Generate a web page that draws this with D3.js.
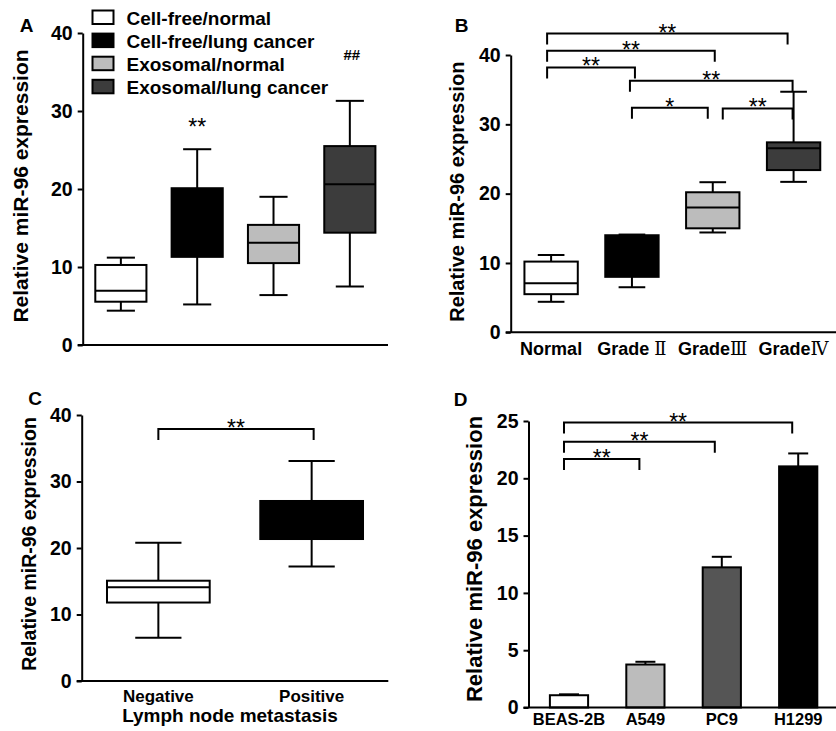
<!DOCTYPE html>
<html><head><meta charset="utf-8">
<script src="https://cdn.jsdelivr.net/npm/d3@7"></script>
<style>
body{margin:0;background:#fff}
svg{display:block}
text{font-family:"Liberation Sans",Arial,Helvetica,sans-serif;fill:#000}
</style>
</head><body>
<svg id="chart" width="836" height="731"></svg>
<script>
// ---------- DATA ----------
const yTicks40 = [0, 10, 20, 30, 40];
const yTicksD = [0, 5, 10, 15, 20, 25];

// Panel A
const groupsA = ["Cell-free/normal", "Cell-free/lung cancer", "Exosomal/normal", "Exosomal/lung cancer"];
const minA = [4.4, 5.2, 6.4, 7.5];
const q1A  = [5.55, 11.3, 10.5, 14.4];
const medA = [6.96, 15.5, 13.1, 20.6];
const q3A  = [10.26, 20.1, 15.4, 25.5];
const maxA = [11.2, 25.1, 19.0, 31.3];
const marksA = ["", "**", "", "##"];

// Panel B
const groupsB = ["Normal", "Grade Ⅱ", "GradeⅢ", "GradeⅣ"];
const minB = [4.4, 6.5, 14.4, 21.7];
const q1B  = [5.5, 8.0, 15.0, 23.4];
const medB = [7.07, 10.5, 18.0, 26.55];
const q3B  = [10.2, 14.0, 20.2, 27.4];
const maxB = [11.15, 14.1, 21.65, 34.7];
const bracketsB = [[0, 3, 43.1, "**"], [0, 2, 40.6, "**"], [0, 1, 38.2, "**"], [1, 3, 36.3, "**"], [1, 2, 32.4, "*"], [2, 3, 32.3, "**"]];

// Panel C
const groupsC = ["Negative", "Positive"];
const minC = [6.5, 17.2];
const q1C  = [11.8, 21.35];
const medC = [14.1, 24.0];
const q3C  = [15.08, 27.07];
const maxC = [20.8, 33.1];
const bracketsC = [[0, 1, 37.9, "**"]];
const xTitleC = "Lymph node metastasis";

// Panel D
const cellsD = ["BEAS-2B", "A549", "PC9", "H1299"];
const meanD = [1.07, 3.75, 12.23, 21.04];
const sdD   = [0.08, 0.24, 0.92, 1.13];
const bracketsD = [[0, 3, 24.86, "**"], [0, 2, 23.18, "**"], [0, 1, 21.68, "**"]];

const yTitle = "Relative miR-96 expression";

// ---------- STYLE ----------
const fillsA = ["#ffffff", "#000000", "#bcbcbc", "#3c3c3c"];
const fillsC = ["#ffffff", "#000000"];
const fillsD = ["#ffffff", "#bcbcbc", "#555555", "#000000"];
const nudgeB = [[-4, -6], [-4, 2], [-4, 3], [-2, -1], [0, -5], [10, -1]];
const SW = 2;

const svg = d3.select("#chart");

function yAxis(g, y, ticks, x0, fs) {
  const ax = g.append("g").attr("transform", `translate(${x0},0)`)
    .call(d3.axisLeft(y).tickValues(ticks).tickSize(5).tickSizeOuter(0).tickPadding(5));
  ax.select(".domain").attr("stroke", "#000").attr("stroke-width", SW);
  ax.selectAll(".tick line").attr("stroke", "#000").attr("stroke-width", SW);
  ax.selectAll(".tick text").attr("font-size", fs).attr("font-weight", "bold")
    .attr("font-family", "Liberation Sans, Arial, sans-serif").attr("fill", "#000");
  return ax;
}
function xAxis(g, x, y0, x1, showLabels, fs, pad) {
  const ax = g.append("g").attr("transform", `translate(0,${y0})`)
    .call(d3.axisBottom(x).tickSize(0).tickSizeOuter(0).tickPadding(pad));
  ax.select(".domain").remove();
  ax.selectAll(".tick line").remove();
  g.append("line").attr("x1", x.range()[0] - 5).attr("x2", x1).attr("y1", y0).attr("y2", y0)
    .attr("stroke", "#000").attr("stroke-width", SW);
  if (!showLabels) ax.selectAll(".tick text").remove();
  else ax.selectAll(".tick text").attr("font-size", fs).attr("font-weight", "bold")
    .attr("font-family", "Liberation Sans, Arial, sans-serif").attr("fill", "#000");
  return ax;
}
function yLabel(g, bx, cy, fs) {
  g.append("text").attr("transform", `translate(${bx},${cy}) rotate(-90)`)
    .attr("text-anchor", "middle").attr("font-size", fs).attr("font-weight", "bold").text(yTitle);
}
function panelLetter(g, cx, by, t) {
  g.append("text").attr("x", cx).attr("y", by).attr("text-anchor", "middle")
    .attr("font-size", 19).attr("font-weight", "bold").text(t);
}
function boxes(g, cats, mins, q1s, meds, q3s, maxs, fills, x, y, capFrac) {
  const bw = x.bandwidth(), cw = bw * capFrac;
  cats.forEach((c, i) => {
    const cx = x(c) + bw / 2;
    const gg = g.append("g");
    gg.append("line").attr("x1", cx).attr("x2", cx).attr("y1", y(q3s[i])).attr("y2", y(maxs[i]));
    gg.append("line").attr("x1", cx).attr("x2", cx).attr("y1", y(q1s[i])).attr("y2", y(mins[i]));
    gg.append("line").attr("x1", cx - cw / 2).attr("x2", cx + cw / 2).attr("y1", y(maxs[i])).attr("y2", y(maxs[i]));
    gg.append("line").attr("x1", cx - cw / 2).attr("x2", cx + cw / 2).attr("y1", y(mins[i])).attr("y2", y(mins[i]));
    gg.append("rect").attr("x", x(c)).attr("width", bw).attr("y", y(q3s[i]))
      .attr("height", y(q1s[i]) - y(q3s[i])).attr("fill", fills[i]);
    gg.append("line").attr("x1", x(c)).attr("x2", x(c) + bw).attr("y1", y(meds[i])).attr("y2", y(meds[i]));
    gg.selectAll("line,rect").attr("stroke", "#000").attr("stroke-width", SW);
  });
}
function stars(g, cx, cy, t) {
  g.append("text").attr("x", cx).attr("y", cy + 13.5).attr("text-anchor", "middle")
    .attr("font-family", "DejaVu Sans, sans-serif").attr("font-size", 23).text(t);
}
function brackets(g, list, x, y, nudges) {
  const bw = x.bandwidth();
  const cats = x.domain();
  list.forEach((b, k) => {
    const n = nudges[k];
    const xa = x(cats[b[0]]) + bw / 2 + n[0];
    const xb = x(cats[b[1]]) + bw / 2 + n[1];
    const yy = y(b[2]);
    g.append("path").attr("d", `M${xa},${yy + 11}V${yy}H${xb}V${yy + 11}`)
      .attr("fill", "none").attr("stroke", "#000").attr("stroke-width", SW);
    stars(g, (xa + xb) / 2, yy - 6.5, b[3]);
  });
}

// ---------- PANEL A ----------
{
  const g = svg.append("g");
  const y = d3.scaleLinear().domain([0, 40]).range([345, 33]);
  const x = d3.scaleBand().domain(groupsA).range([82.7, 388]).paddingInner(0.33).paddingOuter(0.165);
  xAxis(g, x, 345, 388, false, 18, 8);
  yAxis(g, y, yTicks40, 82.7, 19.5);
  boxes(g, groupsA, minA, q1A, medA, q3A, maxA, fillsA, x, y, 0.55);
  groupsA.forEach((c, i) => {
    if (marksA[i] === "**") stars(g, x(c) + x.bandwidth() / 2, 121.5, marksA[i]);
    else if (marksA[i]) g.append("text").attr("x", x(c) + x.bandwidth() / 2 + 2).attr("y", 60)
      .attr("text-anchor", "middle").attr("font-size", 15).attr("font-weight", "bold").text(marksA[i]);
  });
  const lg = g.append("g");
  groupsA.forEach((c, i) => {
    const yy = 10.5 + i * 23.1;
    lg.append("rect").attr("x", 92.5).attr("y", yy).attr("width", 21).attr("height", 13.5)
      .attr("fill", fillsA[i]).attr("stroke", "#000").attr("stroke-width", SW);
    lg.append("text").attr("x", 126.5).attr("y", yy + 14).attr("font-size", 19)
      .attr("font-weight", "bold").text(c);
  });
  yLabel(g, 28, 186, 21);
  panelLetter(g, 26.5, 32, "A");
}

// ---------- PANEL B ----------
{
  const g = svg.append("g");
  const y = d3.scaleLinear().domain([0, 40]).range([332.3, 55]);
  const x = d3.scaleBand().domain(groupsB).range([510.7, 834]).paddingInner(0.34).paddingOuter(0.17);
  const ax = xAxis(g, x, 332.3, 836, true, 18, 10);
  ax.selectAll(".tick text").each(function(d) {
    const t = d3.select(this);
    const m = d.match(/^(Grade ?)(.)$/);
    if (m) {
      t.text(null);
      t.append("tspan").text(m[1]);
      t.append("tspan").attr("font-family", "DejaVu Serif, Liberation Serif, serif")
        .attr("font-weight", "normal").text(m[2]);
    }
  });
  yAxis(g, y, yTicks40, 510.7, 19.5);
  boxes(g, groupsB, minB, q1B, medB, q3B, maxB, fillsA, x, y, 0.5);
  brackets(g, bracketsB, x, y, nudgeB);
  yLabel(g, 464, 191.7, 20);
  panelLetter(g, 461.5, 31.7, "B");
}

// ---------- PANEL C ----------
{
  const g = svg.append("g");
  const y = d3.scaleLinear().domain([0, 40]).range([681, 415]);
  const x = d3.scaleBand().domain(groupsC).range([81.7, 388.3]).paddingInner(0.33).paddingOuter(0.165);
  xAxis(g, x, 681, 388.3, true, 17, 9);
  yAxis(g, y, yTicks40, 81.7, 19.5);
  boxes(g, groupsC, minC, q1C, medC, q3C, maxC, fillsC, x, y, 0.45);
  brackets(g, bracketsC, x, y, [[0, 2]]);
  g.append("text").attr("x", 230).attr("y", 721.7).attr("text-anchor", "middle")
    .attr("font-size", 19).attr("font-weight", "bold").text(xTitleC);
  yLabel(g, 35.5, 544, 19.5);
  panelLetter(g, 35, 405, "C");
}

// ---------- PANEL D ----------
{
  const g = svg.append("g");
  const y = d3.scaleLinear().domain([0, 25]).range([707.5, 421]);
  const x = d3.scaleBand().domain(cellsD).range([528.5, 838.7]).paddingInner(0.5).paddingOuter(0.28);
  const bw = x.bandwidth();
  cellsD.forEach((c, i) => {
    const cx = x(c) + bw / 2;
    g.append("line").attr("x1", cx).attr("x2", cx).attr("y1", y(meanD[i])).attr("y2", y(meanD[i] + sdD[i]))
      .attr("stroke", "#000").attr("stroke-width", SW);
    g.append("line").attr("x1", cx - 10).attr("x2", cx + 10)
      .attr("y1", y(meanD[i] + sdD[i])).attr("y2", y(meanD[i] + sdD[i]))
      .attr("stroke", "#000").attr("stroke-width", SW);
    g.append("rect").attr("x", x(c)).attr("width", bw).attr("y", y(meanD[i]))
      .attr("height", y(0) - y(meanD[i])).attr("fill", fillsD[i])
      .attr("stroke", "#000").attr("stroke-width", SW);
  });
  xAxis(g, x, 707.5, 836, true, 16.5, 6);
  yAxis(g, y, yTicksD, 528.5, 19.5);
  brackets(g, bracketsD, x, y, [[-5, -6], [-5, -7], [-5, -6]]);
  yLabel(g, 482, 559, 22);
  panelLetter(g, 460.5, 406, "D");
}
</script>
</body></html>
